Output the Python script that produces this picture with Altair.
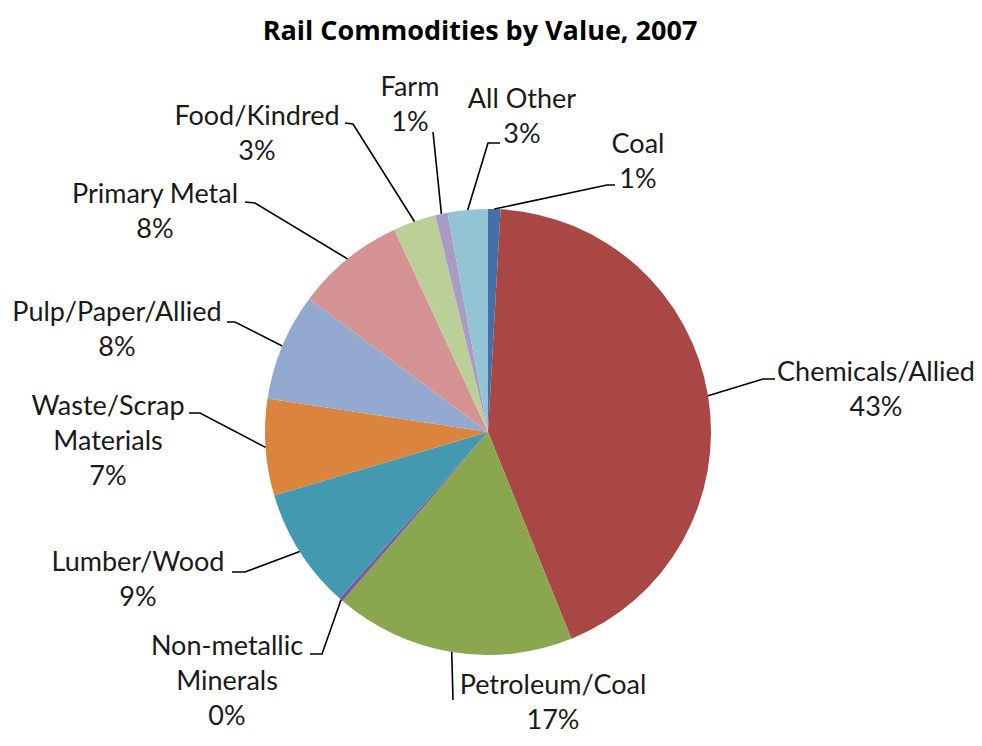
import math
import altair as alt
import pandas as pd

# ---------------- data ----------------
categories = ["Coal", "Chemicals/Allied", "Petroleum/Coal", "Non-metallic Minerals",
              "Lumber/Wood", "Waste/Scrap Materials", "Pulp/Paper/Allied",
              "Primary Metal", "Food/Kindred", "Farm", "All Other"]
values = [0.9, 43.0, 17.4, 0.3, 8.8, 7.0, 7.8, 7.9, 3.1, 0.9, 2.9]
pct_labels = ["1%", "43%", "17%", "0%", "9%", "7%", "8%", "8%", "3%", "1%", "3%"]
label_names = ["Coal", "Chemicals/Allied", "Petroleum/Coal", "Non-metallic\nMinerals",
               "Lumber/Wood", "Waste/Scrap\nMaterials", "Pulp/Paper/Allied",
               "Primary Metal", "Food/Kindred", "Farm", "All Other"]
title_text = "Rail Commodities by Value, 2007"

# ---------------- style / layout ----------------
colors = ["#4270A8", "#A94744", "#8AA64F", "#7B5AA0", "#4399B0", "#DB843D",
          "#93A9CF", "#D49392", "#BBCF98", "#A99BC3", "#93C4D6"]
W, H, OFF = 966, 730, 8          # plot size and page margin
CX, CY, R = 488, 432, 223        # pie centre / radius (page pixels)
FONT = "Lato"
# first-line centres of each label block (page pixels)
label_pos = [(638, 145), (876, 373), (553, 686), (227, 647), (138, 563),
             (108, 407), (117, 313), (155, 195), (257, 117), (410, 88), (522, 100)]
# leader-line bends after the slice edge (page pixels)
leader_bends = [
    [(607, 185), (615, 185)],
    [(763, 379), (775, 379)],
    [(453, 700)],
    [(322, 654), (310, 654)],
    [(245, 572), (232, 572)],
    [(200, 413), (189, 413)],
    [(235, 322), (227, 322)],
    [(255, 203), (245, 202)],
    [(353, 124), (345, 123)],
    [(433, 132)],
    [(488, 143), (500, 143)],
]

# ---------------- build tables ----------------
total = sum(values)
pie_df = pd.DataFrame({"idx": range(len(categories)), "category": categories, "value": values})

line_rows = []
cum = 0.0
for i, (c, v) in enumerate(zip(categories, values)):
    a = 2 * math.pi * (cum + v / 2) / total
    cum += v
    ex, ey = CX + R * math.sin(a), CY - R * math.cos(a)
    pts = [(ex, ey)] + leader_bends[i]
    for s, (px, py) in enumerate(pts):
        line_rows.append({"category": c, "seq": s, "px": px, "py": py})
line_df = pd.DataFrame(line_rows)

lab_df = pd.DataFrame({
    "category": categories,
    "label": [n + "\n" + p for n, p in zip(label_names, pct_labels)],
    "px": [p[0] for p in label_pos],
    "py": [p[1] for p in label_pos],
})
title_df = pd.DataFrame({"t": [title_text], "px": [480], "py": [32]})

xs = alt.Scale(domain=[OFF, OFF + W], range=[0, W], nice=False, zero=False)
ys = alt.Scale(domain=[OFF, OFF + H], range=[0, H], nice=False, zero=False)

pie = alt.Chart(pie_df).mark_arc(outerRadius=R, strokeWidth=0).encode(
    theta=alt.Theta("value:Q", stack=True),
    color=alt.Color("category:N", scale=alt.Scale(domain=categories, range=colors), legend=None),
    order=alt.Order("idx:Q"),
    x=alt.value(CX - OFF),
    y=alt.value(CY - OFF),
)

leaders = alt.Chart(line_df).mark_line(color="#000000", strokeWidth=1.6).encode(
    x=alt.X("px:Q", scale=xs, axis=None),
    y=alt.Y("py:Q", scale=ys, axis=None),
    detail="category:N",
    order="seq:Q",
)

labels = alt.Chart(lab_df).mark_text(
    font=FONT, fontSize=27, lineBreak="\n", lineHeight=35,
    align="center", baseline="middle", color="#1a1a1a",
).encode(
    x=alt.X("px:Q", scale=xs, axis=None),
    y=alt.Y("py:Q", scale=ys, axis=None),
    text="label:N",
)

title = alt.Chart(title_df).mark_text(
    font="Open Sans", fontSize=27, fontWeight="bold", align="center",
    baseline="middle", color="#000000",
).encode(
    x=alt.X("px:Q", scale=xs, axis=None),
    y=alt.Y("py:Q", scale=ys, axis=None),
    text="t:N",
)

chart = alt.layer(pie, leaders, labels, title).properties(
    width=W, height=H, padding=0, autosize=alt.AutoSizeParams(type="none"),
).configure_view(stroke=None)

chart.save("out.html", embed_options={"renderer": "svg", "actions": False})
